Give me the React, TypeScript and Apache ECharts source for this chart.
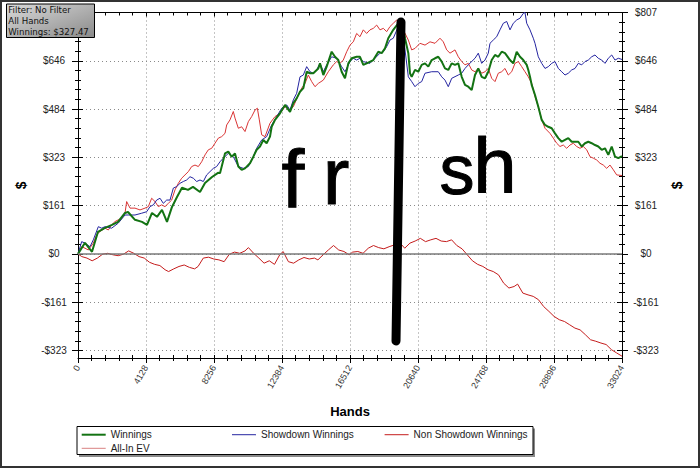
import React, { useEffect, useRef } from "react";
import * as echarts from "echarts";

// ---- texts ----
const INFO_LINES = ["Filter: No Filter", "All Hands", "Winnings: $327.47"];
const X_NAME = "Hands";
const Y_NAME = "$";
const SERIES_NAMES = ["Winnings", "Showdown Winnings", "Non Showdown Winnings", "All-In EV"];

// ---- axis ranges / ticks ----
const X_MIN = 0;
const X_MAX = 33024;
const X_INTERVAL = 4128;
const Y_MIN = -348;
const Y_MAX = 807;
const Y_MAJOR = [-322.8, -161.4, 0, 161.4, 322.8, 484.2, 645.6, 807];
// the left "$807" label is hidden under the info box in the reference
const Y_LABELS_LEFT = [-322.8, -161.4, 0, 161.4, 322.8, 484.2, 645.6];

// ---- series data: [hands, dollars] ----
const winnings: [number, number][] = [
  [0,0],[425,37],[850,7],[1214,74],[1639,87],[2064,97],[2428,107],[2853,137],[3035,140],[3460,114],[3885,107],[4189,97],[4492,137],[4796,124],[5099,147],[5403,107],[5706,157],[6010,190],[6313,221],[6677,214],[6981,224],[7406,207],[7710,237],[8135,257],[8499,271],[8620,270],[8924,336],[9125,342],[9328,325],[9531,336],[9733,292],[9935,281],[10138,286],[10441,303],[10644,325],[10846,348],[11048,359],[11250,381],[11452,370],[11656,392],[11757,425],[11960,448],[12263,470],[12566,498],[12870,475],[13072,504],[13274,520],[13477,542],[13679,554],[13882,609],[14084,604],[14286,604],[14589,620],[14691,637],[14893,598],[15096,626],[15400,676],[15601,659],[15803,648],[16005,609],[16208,587],[16410,637],[16612,654],[16916,659],[17119,659],[17320,632],[17523,637],[17927,648],[18231,676],[18436,671],[18636,687],[18836,721],[19140,749],[19444,771],[19650,778],[19851,721],[20053,671],[20154,604],[20257,592],[20458,615],[20658,609],[20864,632],[21065,637],[21266,626],[21472,648],[21672,654],[21872,659],[22079,643],[22279,620],[22479,615],[22686,637],[22886,632],[23086,637],[23293,592],[23493,565],[23693,559],[23900,548],[24100,598],[24300,620],[24507,592],[24707,587],[24907,609],[25114,648],[25314,665],[25514,659],[25721,676],[25921,671],[26225,648],[26425,637],[26632,676],[26832,659],[27032,648],[27239,632],[27336,615],[27439,592],[27542,565],[27743,531],[27943,492],[28150,448],[28350,431],[28550,425],[28757,420],[28957,403],[29157,387],[29364,375],[29564,381],[29764,387],[29971,375],[30171,375],[30371,375],[30578,359],[30778,370],[30978,375],[31185,370],[31385,364],[31585,359],[31792,348],[31992,353],[32192,331],[32399,359],[32599,325],[32799,320],[33024,327]
];

const showdown: [number, number][] = [
  [0,0],[223,41],[425,36],[728,24],[930,47],[1234,91],[1437,86],[1639,91],[2044,86],[2448,103],[2853,130],[3055,130],[3460,130],[3865,136],[4168,141],[4371,158],[4573,164],[4776,180],[4978,186],[5180,169],[5383,180],[5585,180],[5787,220],[5990,225],[6192,236],[6394,242],[6596,247],[6799,258],[7001,253],[7204,242],[7406,247],[7608,242],[7810,264],[8013,275],[8215,286],[8417,292],[8620,308],[8822,320],[9125,336],[9428,325],[9733,292],[10035,286],[10339,292],[10644,325],[10846,353],[11150,381],[11452,392],[11757,431],[12062,459],[12366,487],[12670,498],[12870,481],[13072,515],[13274,537],[13477,592],[13679,598],[13882,626],[14084,609],[14286,604],[14488,615],[14691,637],[14893,609],[15096,632],[15400,659],[15703,654],[16005,626],[16208,609],[16512,643],[16713,654],[16916,648],[17119,654],[17320,643],[17726,637],[18029,654],[18333,671],[18535,676],[18740,693],[18940,715],[19140,721],[19444,760],[19650,771],[20053,592],[20257,576],[20458,559],[20658,570],[20864,576],[21065,604],[21472,609],[21872,609],[22079,592],[22279,581],[22479,559],[22686,587],[23086,598],[23293,604],[23493,620],[23693,632],[24100,654],[24300,671],[24507,637],[24707,648],[24907,671],[25010,704],[25211,715],[25417,726],[25617,749],[25818,771],[26025,777],[26225,749],[26425,771],[26632,782],[26832,788],[27032,804],[27135,807],[27239,771],[27439,749],[27640,721],[27743,704],[27943,659],[28150,637],[28350,620],[28550,626],[28757,637],[28957,643],[29157,620],[29364,609],[29564,598],[29764,604],[29971,615],[30171,620],[30371,637],[30578,632],[30778,643],[30978,648],[31185,659],[31385,665],[31585,654],[31792,648],[31992,637],[32192,654],[32399,665],[32599,648],[32799,654],[33024,650]
];

const nonShowdown: [number, number][] = [
  [0,0],[228,-9],[544,-14],[860,-23],[1176,-14],[1493,-1],[1809,2],[2125,-3],[2441,-6],[2757,-1],[3074,10],[3390,2],[3706,-9],[4022,-14],[4339,-28],[4655,-35],[4971,-39],[5288,-53],[5498,-59],[5815,-50],[6131,-42],[6447,-37],[6763,-45],[7080,-50],[7290,-42],[7606,-14],[7923,-11],[8239,-17],[8555,-20],[8871,-26],[9188,-1],[9504,6],[9820,2],[10136,10],[10347,21],[10663,2],[10980,-14],[11296,-31],[11612,-23],[11928,-35],[12245,-3],[12455,8],[12772,-26],[13088,-31],[13404,-20],[13720,-12],[14037,-17],[14353,-14],[14564,-20],[14880,-3],[15196,13],[15512,28],[15829,13],[16145,8],[16461,-3],[16672,6],[16988,8],[17304,2],[17621,19],[17937,28],[18253,21],[18569,17],[18885,24],[19202,30],[19623,32],[19834,19],[20150,36],[20467,43],[20783,52],[21099,41],[21415,47],[21732,52],[22048,43],[22364,41],[22680,47],[22997,28],[23313,17],[23629,-3],[23945,-23],[24262,-35],[24578,-42],[24894,-53],[25210,-59],[25527,-70],[25843,-98],[26159,-114],[26475,-109],[26686,-101],[27003,-131],[27319,-137],[27635,-142],[27951,-153],[28268,-176],[28584,-192],[28900,-209],[29216,-220],[29533,-226],[29849,-237],[30165,-248],[30481,-254],[30798,-270],[31114,-287],[31430,-292],[31746,-298],[32063,-303],[32379,-320],[32695,-331],[33024,-342]
];

const allInEV: [number, number][] = [
  [0,0],[223,24],[425,19],[627,13],[930,36],[1133,64],[1336,75],[1639,86],[1842,80],[2044,97],[2246,108],[2448,114],[2651,119],[2853,136],[2954,175],[3157,153],[3460,153],[3764,147],[4067,153],[4270,158],[4472,186],[4674,175],[4877,158],[5079,164],[5281,158],[5484,169],[5686,180],[5888,214],[6091,236],[6293,253],[6495,264],[6698,275],[6900,292],[7103,297],[7305,292],[7507,308],[7710,331],[7912,348],[8114,353],[8316,370],[8519,387],[8721,392],[8924,403],[9026,431],[9227,448],[9428,476],[9531,454],[9733,420],[9935,425],[10138,409],[10339,442],[10542,459],[10745,481],[10887,487],[11008,448],[11150,398],[11352,392],[11656,437],[11960,459],[12263,470],[12566,492],[12870,481],[13072,492],[13375,531],[13580,554],[13780,570],[13982,598],[14186,576],[14387,559],[14589,570],[14893,581],[15195,609],[15499,632],[15703,643],[15905,637],[16105,648],[16312,676],[16512,698],[16713,709],[16916,737],[17119,726],[17320,749],[17523,737],[17726,749],[17927,754],[18131,765],[18333,749],[18535,754],[18740,743],[18940,760],[19140,771],[19347,782],[19650,760],[20051,715],[20257,682],[20458,687],[20761,704],[21065,698],[21369,709],[21672,704],[21976,721],[22176,709],[22382,682],[22583,671],[22886,682],[23086,659],[23293,643],[23493,632],[23693,637],[23900,615],[24100,609],[24300,620],[24507,604],[24707,609],[24907,620],[25114,587],[25314,576],[25514,604],[25721,609],[25921,620],[26122,598],[26328,609],[26528,637],[26729,643],[26935,626],[27135,609],[27336,592],[27542,570],[27743,526],[27943,492],[28150,448],[28350,420],[28653,403],[28855,387],[29060,370],[29260,359],[29461,364],[29667,353],[29867,364],[30069,370],[30274,359],[30474,353],[30675,359],[30881,348],[31081,325],[31282,320],[31488,314],[31688,303],[31889,297],[32095,286],[32296,297],[32499,281],[32702,264],[33024,262]
];

// hand-drawn annotation (divider scribble, in data coordinates)
const DIVIDER: [number, number][] = [[19608, 775], [19305, -291]];
const NOTE_LEFT = ["f", "r"];
const NOTE_RIGHT = ["s", "h"];

const FONT = "'Liberation Sans', Arial, sans-serif";
const BLACK = "#000";
const COLORS = ["#137313", "#2424a0", "#c41c1c", "#d93434"];
const LEGEND_ICON_COLORS = ["#137313", "#2424a0", "#c41c1c", "#d98080"];

function fmtDollar(v: number) {
  const r = Math.round(Math.abs(v));
  return (v < -0.001 ? "-$" : "$") + r;
}

function buildMinor(): number[] {
  const out: number[] = [];
  const step = (Y_MAJOR[1] - Y_MAJOR[0]) / 5;
  for (let k = 0; k <= 40; k++) {
    const v = Math.round((Y_MAJOR[0] + k * step) * 100) / 100;
    if (v <= Y_MAX + 0.01) out.push(v);
  }
  return out;
}

export default function App() {
  const ref = useRef<HTMLDivElement>(null);

  useEffect(() => {
    if (!ref.current) return;
    const chart = echarts.init(ref.current, null, { renderer: "svg" });
    const yMinor = buildMinor();

    const baseY = (position: string, extra: any) => ({
      type: "value",
      min: Y_MIN,
      max: Y_MAX,
      position,
      axisLine: { show: false, onZero: false },
      axisTick: { show: false },
      axisLabel: { show: false },
      splitLine: { show: false },
      ...extra,
    });

    const mainY = (position: string, gap: number, labels: number[]) =>
      baseY(position, {
        axisLine: { show: true, onZero: false, lineStyle: { color: BLACK, width: 1 } },
        axisTick: { show: true, customValues: Y_MAJOR, length: 6, lineStyle: { color: BLACK } },
        axisLabel: {
          show: true,
          customValues: labels,
          formatter: fmtDollar,
          align: "center",
          margin: 24,
          fontSize: 10,
          color: "#222",
          fontFamily: FONT,
        },
        splitLine:
          position === "left"
            ? { show: true, lineStyle: { color: "#8a8a8a", width: 1, type: [1, 3] } }
            : { show: false },
        name: Y_NAME,
        nameLocation: "middle",
        nameGap: gap,
        nameRotate: 90,
        nameTextStyle: { fontWeight: "bold", fontSize: 14, color: BLACK, fontFamily: FONT },
      });

    const tickY = (position: string, vals: number[], inside: boolean, len: number) =>
      baseY(position, {
        axisTick: { show: true, customValues: vals, inside, length: len, lineStyle: { color: BLACK } },
      });

    const baseX = (position: string, extra: any) => ({
      type: "value",
      min: X_MIN,
      max: X_MAX,
      interval: X_INTERVAL,
      position,
      axisLine: { show: false, onZero: false },
      axisTick: { show: false },
      axisLabel: { show: false },
      splitLine: { show: false },
      ...extra,
    });

    const legendDefs = [
      { data: [SERIES_NAMES[0]], left: 81.7, top: 429.7, h: 2, c: LEGEND_ICON_COLORS[0] },
      { data: [SERIES_NAMES[1]], left: 232, top: 429.7, h: 1, c: LEGEND_ICON_COLORS[1] },
      { data: [SERIES_NAMES[2]], left: 384.6, top: 429.7, h: 1, c: LEGEND_ICON_COLORS[2] },
      { data: [SERIES_NAMES[3]], left: 81.7, top: 443.3, h: 1, c: LEGEND_ICON_COLORS[3] },
    ];

    const option: any = {
      animation: false,
      backgroundColor: "#fff",
      grid: { left: 78, right: 78, top: 12.5, bottom: 110, containLabel: false },
      xAxis: [
        baseX("bottom", {
          axisLine: { show: true, onZero: false, lineStyle: { color: BLACK } },
          axisTick: { show: true, length: 5, lineStyle: { color: BLACK } },
          minorTick: { show: true, splitNumber: 5, length: 3, lineStyle: { color: BLACK } },
          axisLabel: {
            show: true,
            rotate: 60,
            margin: 8,
            fontSize: 9,
            color: "#333",
            fontFamily: FONT,
            showMinLabel: true,
            showMaxLabel: true,
            formatter: (v: number) => String(v),
          },
          splitLine: { show: true, lineStyle: { color: "#8a8a8a", width: 1, type: [1, 3] } },
          name: X_NAME,
          nameLocation: "middle",
          nameGap: 47,
          nameTextStyle: { fontWeight: "bold", fontSize: 13, color: BLACK, fontFamily: FONT },
        }),
        baseX("bottom", {
          axisTick: { show: true, inside: true, length: 3, lineStyle: { color: BLACK } },
          minorTick: { show: true, splitNumber: 5, length: 3, lineStyle: { color: BLACK } },
        }),
        baseX("top", {
          axisLine: { show: true, onZero: false, lineStyle: { color: BLACK } },
          axisTick: { show: true, inside: true, length: 4, lineStyle: { color: BLACK } },
          minorTick: { show: true, splitNumber: 5, length: 3, lineStyle: { color: BLACK } },
        }),
      ],
      yAxis: [
        mainY("left", 50, Y_LABELS_LEFT),
        tickY("left", Y_MAJOR, true, 5),
        tickY("left", yMinor, false, 3),
        tickY("left", yMinor, true, 3),
        mainY("right", 48, Y_MAJOR),
        tickY("right", Y_MAJOR, true, 5),
        tickY("right", yMinor, false, 3),
        tickY("right", yMinor, true, 3),
      ],
      legend: legendDefs.map((l) => ({
        data: l.data,
        left: l.left,
        top: l.top,
        orient: "horizontal",
        padding: 0,
        itemWidth: 24,
        itemHeight: 10,
        icon: "path://M0,0H24V" + l.h + "H0Z",
        itemStyle: { color: l.c, borderWidth: 0 },
        z: 10,
        selectedMode: false,
        textStyle: { fontSize: 10, color: "#222", fontFamily: FONT },
      })),
      series: [
        {
          name: SERIES_NAMES[3],
          type: "line",
          data: allInEV,
          showSymbol: false,
          symbol: "none",
          color: COLORS[3],
          lineStyle: { width: 1, color: COLORS[3] },
          z: 2,
        },
        {
          name: SERIES_NAMES[2],
          type: "line",
          data: nonShowdown,
          showSymbol: false,
          symbol: "none",
          color: COLORS[2],
          lineStyle: { width: 1, color: COLORS[2] },
          z: 2,
          markLine: {
            silent: true,
            symbol: ["none", "none"],
            label: { show: false },
            lineStyle: { color: "#7a7a7a", width: 1.5, type: "solid" },
            data: [{ yAxis: 0 }],
          },
        },
        {
          name: SERIES_NAMES[1],
          type: "line",
          data: showdown,
          showSymbol: false,
          symbol: "none",
          color: COLORS[1],
          lineStyle: { width: 1, color: COLORS[1] },
          z: 3,
        },
        {
          name: SERIES_NAMES[0],
          type: "line",
          data: winnings,
          showSymbol: false,
          symbol: "none",
          color: COLORS[0],
          lineStyle: { width: 2, color: COLORS[0] },
          z: 4,
          markLine: {
            silent: true,
            symbol: ["none", "none"],
            label: { show: false },
            lineStyle: { color: BLACK, width: 9, type: "solid", cap: "round" },
            data: [[{ coord: DIVIDER[0] }, { coord: DIVIDER[1] }]],
          },
        },
      ],
      graphic: [
        // outer frame
        {
          type: "rect",
          z: 100,
          silent: true,
          shape: { x: 1, y: 1, width: 698, height: 466 },
          style: { fill: "none", stroke: "#333", lineWidth: 2 },
        },
        // info box
        {
          type: "rect",
          z: 100,
          shape: { x: 6.5, y: 4, width: 88, height: 33.5 },
          style: {
            fill: new echarts.graphic.LinearGradient(0, 0, 1, 1, [
              { offset: 0, color: "#dadada" },
              { offset: 1, color: "#8a8a8a" },
            ]),
            stroke: BLACK,
            lineWidth: 1,
          },
        },
        ...INFO_LINES.map((t, i) => ({
          type: "text",
          z: 101,
          x: 8.3,
          y: 10 + i * 10.8,
          style: { text: t, fill: "#111", font: "8.6px 'DejaVu Sans'", verticalAlign: "middle" },
        })),
        // legend frame with shadow
        {
          type: "rect",
          z: 1,
          shape: { x: 79, y: 428.5, width: 456, height: 28.5 },
          style: { fill: "#8a8a8a" },
        },
        {
          type: "rect",
          z: 2,
          shape: { x: 77, y: 426.5, width: 456, height: 28 },
          style: { fill: "#fff", stroke: BLACK, lineWidth: 1 },
        },
        // hand-written notes
        ...[
          { t: NOTE_LEFT[0], x: 293, y: 178, s: 82 },
          { t: NOTE_LEFT[1], x: 336, y: 176, s: 80 },
          { t: NOTE_RIGHT[0], x: 457, y: 170, s: 70 },
          { t: NOTE_RIGHT[1], x: 495, y: 166, s: 78 },
        ].map((n) => ({
          type: "text",
          z: 50,
          x: n.x,
          y: n.y,
          style: {
            text: n.t,
            fill: BLACK,
            stroke: BLACK,
            lineWidth: 1,
            font: n.s + "px 'Liberation Sans'",
            align: "center",
            verticalAlign: "middle",
          },
        })),
      ],
    };

    chart.setOption(option);
    return () => chart.dispose();
  }, []);

  return (
    <div
      ref={ref}
      style={{ position: "absolute", left: 0, top: 0, width: 700, height: 468, background: "#fff" }}
    />
  );
}
